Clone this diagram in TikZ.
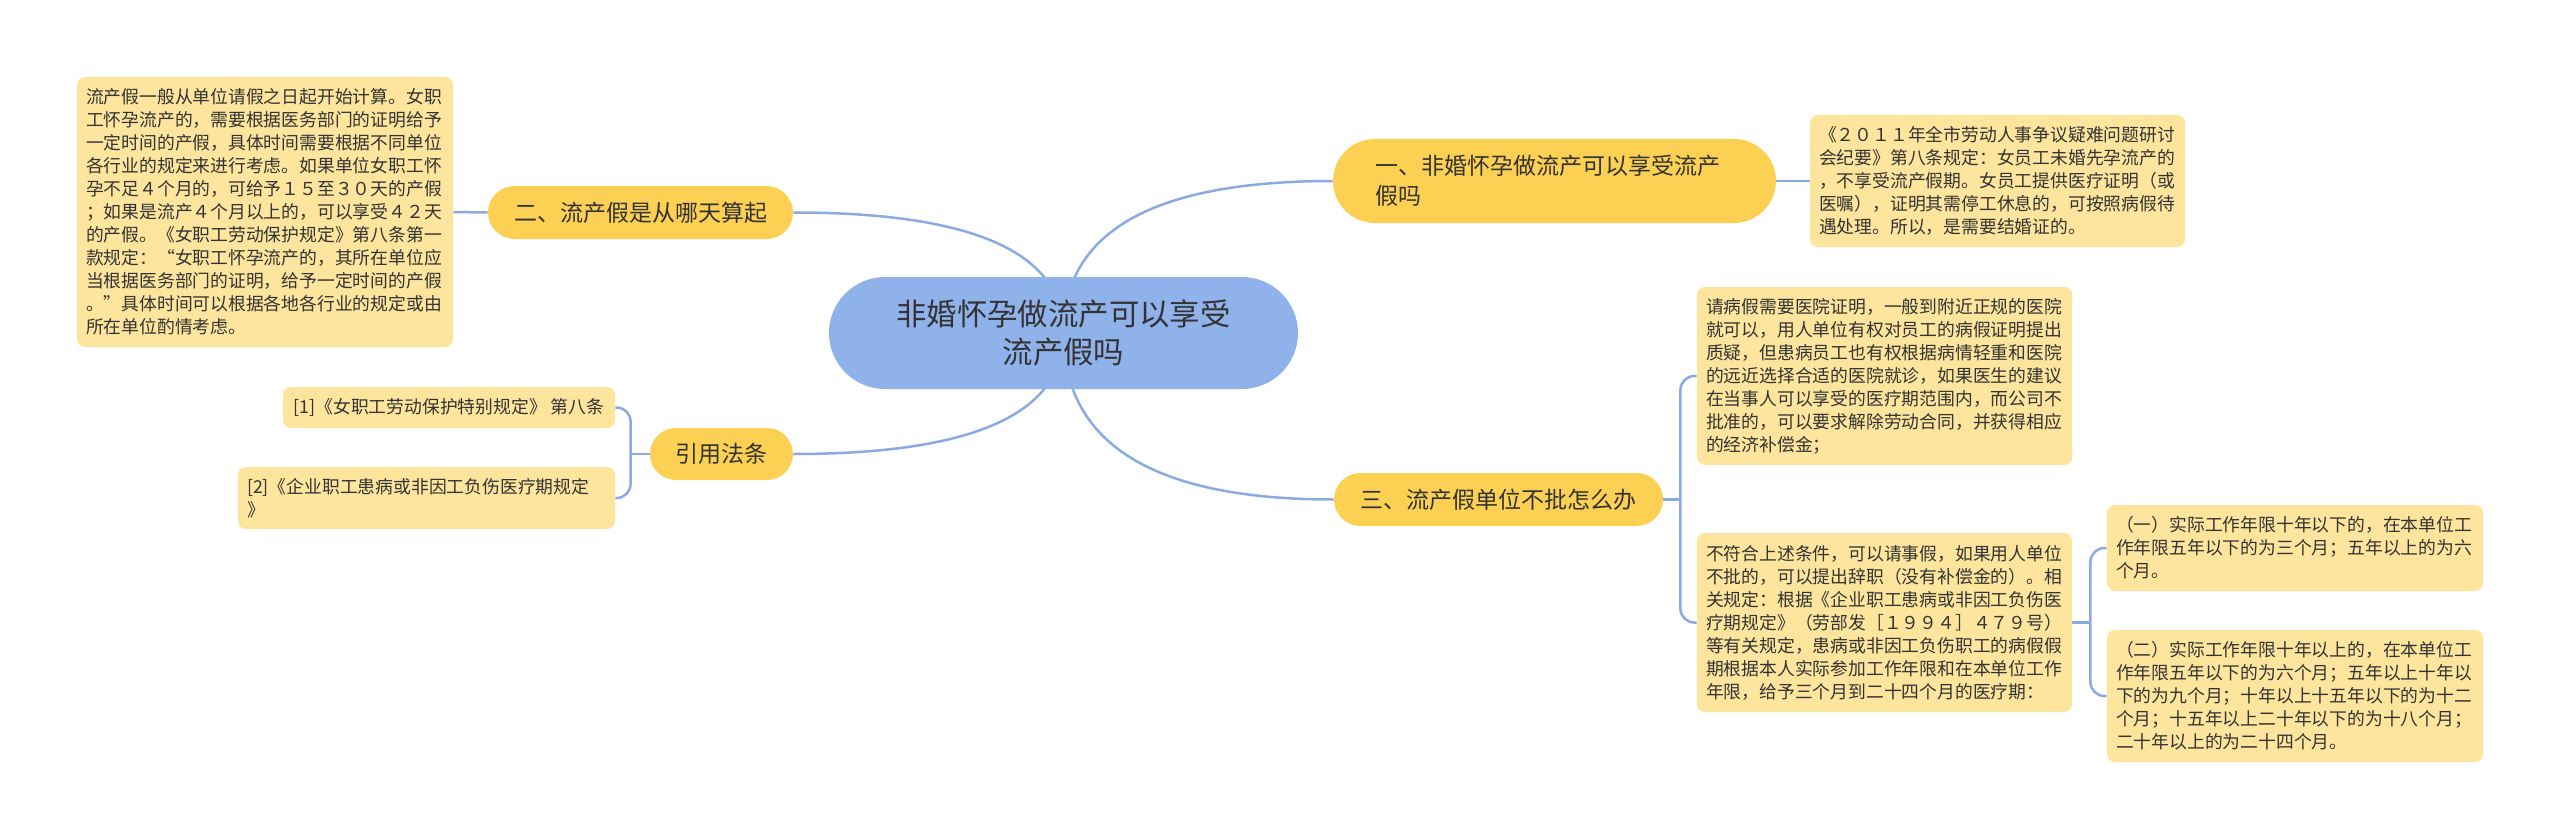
\documentclass[tikz,border=0pt]{standalone}
\usepackage{fontspec}
\newfontfamily\cjk{Noto Sans CJK SC}
\usetikzlibrary{calc}
\definecolor{rootc}{HTML}{8FB2EB}
\definecolor{branchc}{HTML}{FCD052}
\definecolor{leafc}{HTML}{FDE59D}
\definecolor{linec}{HTML}{8BAAE2}
\definecolor{txtc}{HTML}{333333}
\pgfdeclarelayer{bg}
\pgfdeclarelayer{lines}
\pgfsetlayers{bg,lines,main}
\tikzset{
  base/.style={text=txtc, inner sep=0pt},
  rootbox/.style={base, fill=rootc, rounded corners=28pt, align=center,
    font=\cjk\fontsize{15.2}{19}\selectfont},
  branch/.style={base, fill=branchc, align=center,
    font=\cjk\fontsize{11.5}{15}\selectfont},
  leaf/.style={base, fill=leafc, rounded corners=4pt, align=left, inner xsep=4.5pt,
    font=\cjk\fontsize{8.9}{11.5}\selectfont},
  conn/.style={draw=linec, line width=1.25pt},
  bracket/.style={conn, rounded corners=7pt}
}
\begin{document}
\begin{tikzpicture}[x=0.5pt,y=-0.5pt]
\begin{pgfonlayer}{bg}
\fill[white] (0,0) rectangle (2560,840);
\end{pgfonlayer}
\useasboundingbox (0,0) rectangle (2560,840);

% root
\node[rootbox, minimum width=234.5pt, minimum height=56pt] (root) at (1063.5,333)
  {非婚怀孕做流产可以享受\\流产假吗};

% branches
\node[branch, rounded corners=21pt, minimum width=221.5pt, minimum height=42pt,
  align=left, text width=179.5pt] (b1) at (1554.5,181)
  {一、非婚怀孕做流产可以享受流产\\假吗};
\node[branch, rounded corners=13.25pt, minimum width=152.5pt, minimum height=26.5pt]
  (b2) at (640.5,212.5) {二、流产假是从哪天算起};
\node[branch, rounded corners=13pt, minimum width=71.5pt, minimum height=26pt]
  (bref) at (721.5,454) {引用法条};
\node[branch, rounded corners=13.25pt, minimum width=164.5pt, minimum height=26.5pt]
  (b3) at (1498.5,499.5) {三、流产假单位不批怎么办};

% leaves
\node[leaf, text width=178.5pt, minimum height=66pt] (l1) at (1997.5,181)
  {《２０１１年全市劳动人事争议疑难问题研讨\\
   会纪要》第八条规定：女员工未婚先孕流产的\\
   ，不享受流产假期。女员工提供医疗证明（或\\
   医嘱），证明其需停工休息的，可按照病假待\\
   遇处理。所以，是需要结婚证的。};

\node[leaf, text width=179pt, minimum height=135pt] (l2) at (265,212)
  {流产假一般从单位请假之日起开始计算。女职\\
   工怀孕流产的，需要根据医务部门的证明给予\\
   一定时间的产假，具体时间需要根据不同单位\\
   各行业的规定来进行考虑。如果单位女职工怀\\
   孕不足４个月的，可给予１５至３０天的产假\\
   ；如果是流产４个月以上的，可以享受４２天\\
   的产假。《女职工劳动保护规定》第八条第一\\
   款规定：“女职工怀孕流产的，其所在单位应\\
   当根据医务部门的证明，给予一定时间的产假\\
   。”具体时间可以根据各地各行业的规定或由\\
   所在单位酌情考虑。};

\node[leaf, text width=178.5pt, minimum height=89pt] (l3a) at (1884.5,376)
  {请病假需要医院证明，一般到附近正规的医院\\
   就可以，用人单位有权对员工的病假证明提出\\
   质疑，但患病员工也有权根据病情轻重和医院\\
   的远近选择合适的医院就诊，如果医生的建议\\
   在当事人可以享受的医疗期范围内，而公司不\\
   批准的，可以要求解除劳动合同，并获得相应\\
   的经济补偿金；};

\node[leaf, text width=178.5pt, minimum height=89.5pt] (l3b) at (1884.5,622.5)
  {不符合上述条件，可以请事假，如果用人单位\\
   不批的，可以提出辞职（没有补偿金的）。相\\
   关规定：根据《企业职工患病或非因工负伤医\\
   疗期规定》（劳部发［１９９４］４７９号）\\
   等有关规定，患病或非因工负伤职工的病假假\\
   期根据本人实际参加工作年限和在本单位工作\\
   年限，给予三个月到二十四个月的医疗期：};

\node[leaf, text width=179pt, minimum height=43pt] (l3c) at (2295,548)
  {（一）实际工作年限十年以下的，在本单位工\\
   作年限五年以下的为三个月；五年以上的为六\\
   个月。};

\node[leaf, text width=179pt, minimum height=66pt] (l3d) at (2295,696)
  {（二）实际工作年限十年以上的，在本单位工\\
   作年限五年以下的为六个月；五年以上十年以\\
   下的为九个月；十年以上十五年以下的为十二\\
   个月；十五年以上二十年以下的为十八个月；\\
   二十年以上的为二十四个月。};

\node[leaf, align=center, minimum width=166pt, minimum height=20.5pt] (r1) at (449,407.5)
  {[1]《女职工劳动保护特别规定》 第八条};

\node[leaf, text width=179.5pt, minimum height=31pt] (r2) at (426.5,498)
  {[2]《企业职工患病或非因工负伤医疗期规定\\》};

% helper coordinates
\coordinate (q1) at (root.center |- b1.west);
\coordinate (q2) at (root.center |- b2.east);
\coordinate (qr) at (root.center |- bref.east);
\coordinate (q3) at (root.center |- b3.west);
\coordinate (k3) at ($(b3.east)+(17,0)$);
\coordinate (kr) at ($(bref.west)+(-19,0)$);
\coordinate (kb) at ($(l3b.east)+(18,0)$);

\begin{pgfonlayer}{lines}
\draw[conn] (root.center) .. controls ($(root.center)!0.667!(q1)$) and ($(b1.west)!0.667!(q1)$) .. (b1.west);
\draw[conn] (root.center) .. controls ($(root.center)!0.667!(q2)$) and ($(b2.east)!0.667!(q2)$) .. (b2.east);
\draw[conn] (root.center) .. controls ($(root.center)!0.667!(qr)$) and ($(bref.east)!0.667!(qr)$) .. (bref.east);
\draw[conn] (root.center) .. controls ($(root.center)!0.667!(q3)$) and ($(b3.west)!0.667!(q3)$) .. (b3.west);

\draw[conn] (b1.east) -- (l1.west);
\draw[conn] (b2.west) -- (l2.east);

\draw[conn] (bref.west) -- (kr);
\draw[bracket] (kr) |- (r1.east);
\draw[bracket] (kr) |- (r2.east);

\draw[conn] (b3.east) -- (k3);
\draw[bracket] (k3) |- (l3a.west);
\draw[bracket] (k3) |- (l3b.west);

\draw[conn] (l3b.east) -- (kb);
\draw[bracket] (kb) |- (l3c.west);
\draw[bracket] (kb) |- (l3d.west);
\end{pgfonlayer}
\end{tikzpicture}
\end{document}
